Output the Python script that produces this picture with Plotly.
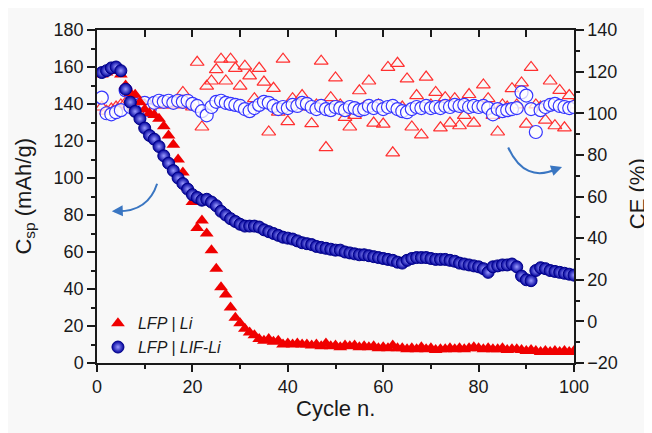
import plotly.graph_objects as go

cycles = list(range(1, 101))

cap_li = [156, 157, 158, 158, 156, 150, 146, 145, 141, 137,
          135, 134, 132, 128, 123, 118, 110, 103, 95, 87,
          73, 77, 70, 61, 51, 41, 37, 30, 24.5, 21.5,
          18.5, 16.5, 15, 13, 12, 13, 11.5, 12, 10, 10.5,
          10, 10.5, 10, 10, 9.5, 10, 9, 10.5, 9, 9.5,
          8.5, 9.5, 9, 9.5, 8.5, 9, 8.5, 9, 8, 8.5,
          8, 9.5, 8, 8, 7.5, 8, 7.5, 8.5, 7.5, 8,
          7, 7.5, 7.5, 8, 7.5, 8, 7.5, 8, 8.5, 8,
          7.5, 8, 7.5, 7.5, 8, 7, 7.5, 7.5, 7, 6.5,
          7, 6.5, 6, 6.5, 6, 6.5, 6, 6.5, 6, 6.5]

cap_lif = [157, 158, 159.5, 160, 158, 148, 141, 136, 132, 127,
           123, 121, 117, 112, 108, 104, 100, 97, 94, 91,
           89.5, 88, 88.5, 87, 85, 82, 80, 78, 76.5, 75,
           74, 74, 74, 73.5, 72, 71, 70, 69, 68, 67.5,
           67, 66, 65, 64.5, 64, 63, 62.5, 62, 61.5, 61,
           61, 60, 59.5, 59, 58.5, 58.5, 58, 57.5, 57, 56.5,
           56, 55.5, 54.5, 54, 55.5, 56.5, 57, 57, 57, 56.5,
           56, 56, 56, 55.5, 55, 54, 53.5, 53, 52.5, 52,
           51, 49, 52, 52.5, 53, 53, 53.5, 52, 47, 45,
           44.5, 50, 51.5, 51, 50, 49.5, 49, 48.5, 48, 47.5]

ce_li = [103, 101, 102, 103, 104, 105, 104, 103, 104, 104,
         103, 104, 105, 104, 105, 104, 105, 110, 104, 103,
         124.5, 93.4, 113, 115.5, 121, 126, 115.5, 126, 121.6, 113,
         122.6, 118, 107, 121.6, 115, 91, 112, 100.5, 126, 96,
         107, 104, 108.5, 103, 95, 104, 125, 83.5, 107.5, 117,
         104, 98, 93.4, 99, 110.8, 103, 115.5, 95.3, 104, 94.8,
         122, 81, 124, 103, 116.5, 93.4, 108.5, 89.6, 117.4, 104,
         110, 93, 107.5, 95.3, 107, 94, 99, 109, 95.3, 103,
         113.6, 107, 99, 91, 104, 103, 111.8, 104, 114.6, 94.8,
         122, 104, 103, 96.7, 115.5, 94, 111, 93, 108.5, 104]

ce_lif = [107.5, 100, 99.5, 100.5, 101.5, 111, 103, 104.5, 104, 105,
          101.5, 105, 106, 105.5, 106, 105, 106, 105.5, 106, 104.5,
          103.5, 101, 99, 103, 105.5, 106, 105, 104.5, 104, 103.5,
          102, 101, 102.5, 104, 105.5, 105, 103.5, 102, 103, 102.5,
          104, 103.5, 105, 104.5, 103, 102, 103.5, 102, 101.5, 103,
          102.5, 101.5, 103, 102.5, 101.5, 102, 103.5, 102.5, 103.5, 102,
          103, 103.5, 102, 101, 100.5, 102, 103, 102.5, 103.5, 102.5,
          103, 102.5, 103.5, 103, 104, 103.5, 104, 103, 103.5, 103,
          103.5, 102.5, 99.5, 102, 101, 101.5, 102, 102.5, 110, 108.5,
          102, 91, 101.5, 103, 104, 104.5, 103.5, 103, 102.5, 103]

names = ["LFP | Li", "LFP | LIF-Li"]

FONT = "Liberation Sans, Arial, sans-serif"
RED = "#f00000"
RED_OPEN = "#ff3030"
BLUE = "#00009c"
BLUE_OPEN = "#3535ff"
ARROW = "#3a76c2"
BG = "#f8f8f8"
INK = "#1a1a1a"

fig = go.Figure()

# CE series (main axis 'y', shown on the right)
fig.add_trace(go.Scatter(
    x=cycles, y=ce_li, mode="markers", yaxis="y", showlegend=False,
    marker=dict(symbol="triangle-up-open", size=12, color=RED_OPEN,
                line=dict(width=1.2, color=RED_OPEN)),
))
fig.add_trace(go.Scatter(
    x=cycles, y=ce_lif, mode="markers", yaxis="y", showlegend=False,
    marker=dict(symbol="circle", size=13, color="rgba(255,255,255,0.75)",
                line=dict(width=1.2, color=BLUE_OPEN)),
))
# capacity series (overlay axis 'y2', shown on the left, drawn on top)
fig.add_trace(go.Scatter(
    x=cycles, y=cap_li, mode="markers", name=names[0], yaxis="y2",
    marker=dict(symbol="triangle-up", size=12, color=RED, line=dict(width=0)),
))
fig.add_trace(go.Scatter(
    x=cycles, y=cap_lif, mode="markers", name=names[1], yaxis="y2",
    marker=dict(symbol="circle", size=12, color=BLUE,
                gradient=dict(type="radial", color="#9a9aff"),
                line=dict(width=1, color="#000088")),
))
# empty trace so the top mirror axis is drawn
fig.add_trace(go.Scatter(x=[], y=[], xaxis="x2", yaxis="y", showlegend=False,
                         hoverinfo="skip"))

axis_common = dict(showline=True, linecolor=INK, linewidth=1.5,
                   showgrid=False, zeroline=False,
                   tickfont=dict(family=FONT, size=18, color=INK),
                   tickcolor=INK, tickwidth=1.5)
minor_common = dict(ticks="outside", ticklen=4, tickcolor=INK, tickwidth=1.5)

fig.update_layout(
    width=644, height=425,
    margin=dict(l=89, r=78, t=15, b=70),
    paper_bgcolor=BG,
    plot_bgcolor=BG,
    xaxis=dict(range=[0, 100], dtick=20, tick0=0, ticks="outside", ticklen=7,
               minor=dict(dtick=10, **minor_common), **axis_common),
    xaxis2=dict(range=[0, 100], overlaying="x", side="top", anchor="y",
                dtick=10, tick0=0, ticks="inside", ticklen=7, showticklabels=False,
                **axis_common),
    yaxis=dict(range=[-20, 140], dtick=20, tick0=-20, side="right",
               ticks="outside", ticklen=8,
               minor=dict(dtick=10, **minor_common), **axis_common),
    yaxis2=dict(range=[0, 180], dtick=20, tick0=0, side="left", overlaying="y",
                ticks="outside", ticklen=8,
                minor=dict(dtick=10, **minor_common), **axis_common),
    legend=dict(x=0.002, y=-0.004, xanchor="left", yanchor="bottom",
                bgcolor="rgba(0,0,0,0)", tracegroupgap=0,
                font=dict(family=FONT, size=16, color=INK, style="italic"),
                itemwidth=30),
    showlegend=True,
)

# axis titles
fig.add_annotation(text="Cycle n.", xref="paper", yref="paper", x=0.5, y=-0.138,
                   xanchor="center", yanchor="middle", showarrow=False,
                   font=dict(family=FONT, size=22, color=INK))
fig.add_annotation(text="C<sub>sp</sub> (mAh/g)", xref="paper", yref="paper",
                   x=-0.153, y=0.5, xanchor="center", yanchor="middle", textangle=-90,
                   showarrow=False, font=dict(family=FONT, size=22, color=INK))
fig.add_annotation(text="CE (%)", xref="paper", yref="paper",
                   x=1.132, y=0.51, xanchor="center", yanchor="middle", textangle=-90,
                   showarrow=False, font=dict(family=FONT, size=22, color=INK))

# curved arrows (in capacity-axis coordinates)
fig.add_shape(type="path", xref="x", yref="y2",
              path="M 12.6,96.9 Q 10.7,81.6 4.0,82.0",
              line=dict(color=ARROW, width=2))
fig.add_annotation(x=3.1, y=82.0, ax=5.0, ay=82.2, xref="x", yref="y2",
                   axref="x", ayref="y2", text="", showarrow=True,
                   arrowhead=2, arrowsize=1.1, arrowwidth=2, arrowcolor=ARROW)
fig.add_shape(type="path", xref="x", yref="y2",
              path="M 86.2,116.5 Q 89.7,96.9 96.5,105.0",
              line=dict(color=ARROW, width=2))
fig.add_annotation(x=97.5, y=105.9, ax=95.8, ay=104.4, xref="x", yref="y2",
                   axref="x", ayref="y2", text="", showarrow=True,
                   arrowhead=2, arrowsize=1.1, arrowwidth=2, arrowcolor=ARROW)

fig.write_html("out.html")
